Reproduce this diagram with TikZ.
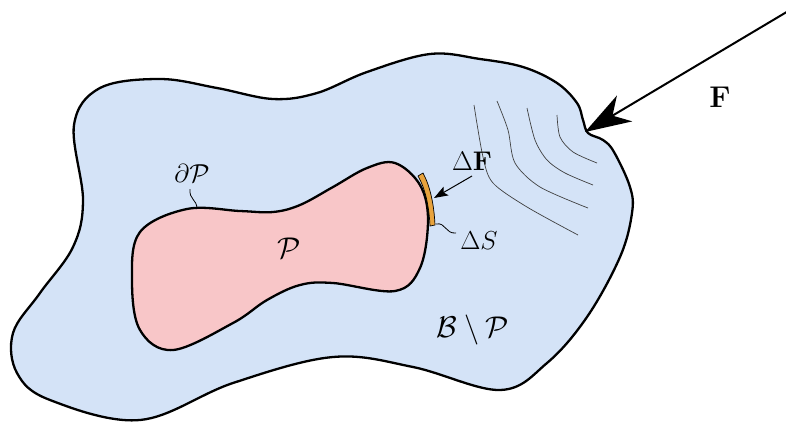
\RequirePackage{fix-cm}
\documentclass[tikz,border=0pt]{standalone}
\usetikzlibrary{arrows.meta}
\definecolor{bodyblue}{HTML}{D4E3F7}
\definecolor{partpink}{HTML}{F8C6C8}
\definecolor{patchorange}{HTML}{E8A33D}
\begin{document}
\begin{tikzpicture}[x=1pt,y=-1pt,
  outline/.style={draw=black,line width=2.3pt},
  stressline/.style={draw=black!75,line width=0.7pt},
  biglabel/.style={font=\fontsize{30}{36}\selectfont,inner sep=0pt},
  midlabel/.style={font=\fontsize{27}{32}\selectfont,inner sep=0pt},
  smalllabel/.style={font=\fontsize{26}{30}\selectfont,inner sep=0pt},
  wiggle/.style={draw=black,line width=0.8pt}]
\useasboundingbox (0,0) rectangle (786,424);
% outer body B
\path[outline,fill=bodyblue] plot[smooth cycle,tension=0.6] coordinates {
 (74,125) (100,88) (160,79) (217,88) (273,99) (317,93) (367,72) (430,54)
 (480,59) (523,67) (557,83) (577,103) (583,120) (588,133) (603,140) (614,152)
 (630,187) (632,213) (620,257) (587,317) (547,363) (500,390) (413,367) (333,357)
 (233,383) (140,420) (50,400) (17,373) (13,333) (40,293) (73,247)
 (83,200)};
% stress lines
\draw[stressline] plot[smooth] coordinates {(474,105) (483,157) (493,183) (527,207) (578,235)};
\draw[stressline] plot[smooth] coordinates {(497,101) (508,130) (515,163) (540,187) (588,208)};
\draw[stressline] plot[smooth] coordinates {(527,108) (535,140) (547,160) (565,173) (593,185)};
\draw[stressline] plot[smooth] coordinates {(557,115) (560,137) (573,152) (597,163)};
% part P
\path[outline,fill=partpink] plot[smooth cycle,tension=0.6] coordinates {
 (140,232) (187,209) (240,211) (273,212) (300,205) (333,187) (367,168) (395,163)
 (420,185) (428,220) (420,268) (395,291) (333,283) (300,285) (267,300) (233,323)
 (173,350) (140,330) (132,280)};
% surface patch Delta S
\filldraw[fill=patchorange,draw=black,line width=0.7pt]
 (418,176) .. controls (425,188) and (429,205) .. (430,226) -- (435,225)
 .. controls (434,204) and (430,186) .. (423,173) -- cycle;
% labels
\node[smalllabel] (dP) at (192,173) {$\partial\mathcal{P}$};
\node[biglabel] (P) at (289,248) {$\mathcal{P}$};
\node[midlabel] (dF) at (472,161) {$\Delta\mathbf{F}$};
\node[smalllabel] (dS) at (479,241) {$\Delta S$};
\node[biglabel] (BP) at (473,330) {$\mathcal{B}\setminus\mathcal{P}$};
\node[biglabel] (F) at (720,97) {$\mathbf{F}$};
% coordinates for connectors
\coordinate (ftail) at (790,10);
\coordinate (ftip) at (585,132);
\coordinate (dftail) at (472,176);
\coordinate (dftip) at (434,198);
\coordinate (dpfoot) at (197,209);
\coordinate (dphead) at (190,189);
\coordinate (dsfoot) at (436,224);
\coordinate (dshead) at (456,233);
% arrows
\draw[line width=2pt,-{Stealth[length=46pt,width=30pt,inset=14pt]}] (ftail) -- (ftip);
\draw[line width=1pt,-{Stealth[length=14pt,width=10pt,inset=3pt]}] (dftail) -- (dftip);
% wiggles
\draw[wiggle] (dpfoot) .. controls (197,199) and (189,200) .. (dphead);
\draw[wiggle] (dsfoot) .. controls (446,222) and (445,234) .. (dshead);
\end{tikzpicture}
\end{document}
